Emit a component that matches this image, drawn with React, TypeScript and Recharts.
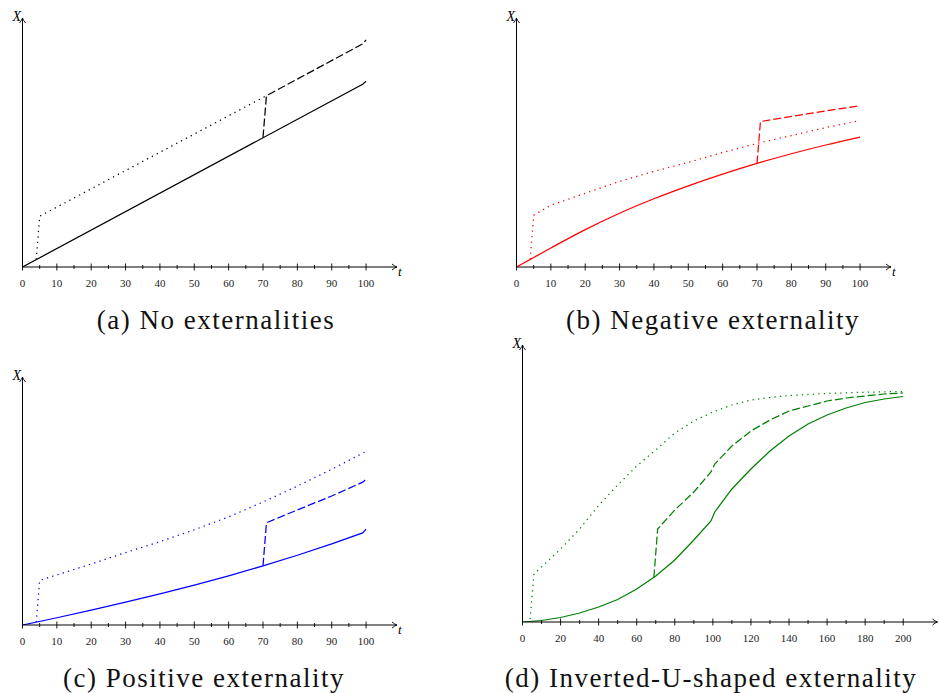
import { LineChart, Line, XAxis, YAxis, ReferenceDot, ReferenceLine } from "recharts";

// (a) No externalities
const aSolidT = [0, 99, 100];
const aSolidX = [0, 183.5, 186.5];
const aDotT = [4, 5, 71];
const aDotX = [7.5, 51, 172];
const aDashT = [70, 71, 99, 100];
const aDashX = [130, 172, 224, 228];

// (b) Negative externality
const bSolidT = [0, 10, 20, 30, 40, 50, 60, 70, 80, 90, 100];
const bSolidX = [0, 19, 37.5, 54, 68.5, 81.5, 93.3, 104, 113.7, 122.5, 130.5];
const bDotT = [4, 5, 10, 20, 30, 40, 50, 60, 70, 80, 90, 100];
const bDotX = [7.8, 52, 62, 74, 86, 96, 105, 115, 124, 132, 140, 147];
const bDashT = [70, 71, 85, 100];
const bDashX = [104, 146, 154, 162];

// (c) Positive externality
const cSolidT = [0, 10, 20, 30, 40, 50, 60, 70, 80, 90, 99, 100];
const cSolidX = [0, 7.3, 15, 23, 31.4, 40.2, 49.6, 59.6, 70.3, 81.7, 92.8, 96.7];
const cDotT = [4, 5, 10, 20, 30, 40, 50, 60, 70, 80, 90, 100];
const cDotX = [2.9, 45, 50.5, 61.5, 73, 84, 96, 109, 124, 140, 157, 175];
const cDashT = [70, 71, 80, 90, 99, 100];
const cDashX = [59.6, 103, 116, 130, 144, 147];

// (d) Inverted-U-shaped externality
const dSolidT = [0, 10, 20, 30, 40, 50, 60, 70, 80, 90, 99, 101, 110, 120, 130, 140, 150, 160, 170, 180, 190, 200];
const dSolidX = [0, 1.5, 4.5, 9, 15, 22.5, 33, 46, 62, 82, 101, 110, 133, 153, 171, 186, 198, 207, 214, 219.5, 223, 225.5];
const dDotT = [4, 6, 10, 20, 30, 40, 50, 60, 70, 80, 90, 100, 110, 120, 130, 140, 160, 180, 200];
const dDotX = [3, 48, 55, 73, 93, 116.5, 137, 156, 172, 189, 201, 210, 217, 222, 224.5, 226.5, 228.5, 229.8, 230.5];
const dDashT = [69, 71, 80, 90, 99, 101, 110, 120, 130, 140, 150, 160, 170, 180, 190, 200];
const dDashX = [44.5, 93, 112, 130, 150, 158, 176, 191, 202, 211, 216, 221, 224, 226, 228, 229];

const ticks100 = [0, 5, 10, 15, 20, 25, 30, 35, 40, 45, 50, 55, 60, 65, 70, 75, 80, 85, 90, 95, 100];
const ticks200 = [0, 10, 20, 30, 40, 50, 60, 70, 80, 90, 100, 110, 120, 130, 140, 150, 160, 170, 180, 190, 200];

const captions = [
  "(a) No externalities",
  "(b) Negative externality",
  "(c) Positive externality",
  "(d) Inverted-U-shaped externality",
];

const zip = (ts: number[], xs: number[]) => ts.map((t, i) => ({ t, x: xs[i] }));

const DOTTED = "1.3 4.2";
const DASHED = "8 3";

const serif = '"Liberation Serif", "DejaVu Serif", serif';

const makeTick = (majorStep: number) => (props: any) => {
  const { x, y, payload } = props;
  const v = payload.value;
  const major = v % majorStep === 0;
  const h = major ? 3.5 : 2;
  return (
    <g>
      <line x1={x} x2={x} y1={y - h} y2={y + h} stroke="#000" strokeWidth={0.9} />
      {major && (
        <text x={x} y={y + 20} textAnchor="middle" style={{ fontFamily: serif, fontSize: 11 }} fill="#222">
          {v}
        </text>
      )}
    </g>
  );
};

const makeRightArrow = (showLabel: boolean) => (props: any) => {
  const { cx, cy } = props;
  return (
    <g>
      <path
        d={`M${cx - 5},${cy - 3} Q${cx - 2},${cy - 0.5} ${cx},${cy} Q${cx - 2},${cy + 0.5} ${cx - 5},${cy + 3}`}
        fill="none"
        stroke="#000"
        strokeWidth={0.9}
      />
      {showLabel && (
        <text x={cx + 1} y={cy + 9} style={{ fontFamily: serif, fontSize: 13, fontStyle: "italic" }} fill="#000">
          t
        </text>
      )}
    </g>
  );
};

const upArrow = (props: any) => {
  const { cx, cy } = props;
  return (
    <g>
      <path
        d={`M${cx - 3},${cy + 5} Q${cx - 0.5},${cy + 2} ${cx},${cy} Q${cx + 0.5},${cy + 2} ${cx + 3},${cy + 5}`}
        fill="none"
        stroke="#000"
        strokeWidth={0.9}
      />
      <text x={cx - 1.5} y={cy + 2.5} textAnchor="end" style={{ fontFamily: serif, fontSize: 14, fontStyle: "italic" }} fill="#000">
        X
      </text>
    </g>
  );
};

interface Series {
  data: { t: number; x: number }[];
  dash?: string;
  smooth?: boolean;
}

function Panel({
  left, top, width, height, right, xMax, yMax, ticks, majorStep, color, series, tLabel,
}: {
  left: number; top: number; width: number; height: number; right: number;
  xMax: number; yMax: number; ticks: number[]; majorStep: number; color: string; series: Series[];
  tLabel: boolean;
}) {
  return (
    <div style={{ position: "absolute", left, top }}>
      <LineChart width={width} height={height} margin={{ top: 18, right, left: 22.5, bottom: 0 }}>
        <XAxis
          dataKey="t"
          type="number"
          domain={[0, xMax]}
          ticks={ticks}
          interval={0}
          height={33}
          axisLine={{ stroke: "#000", strokeWidth: 1 }}
          tickLine={false}
          tickSize={0}
          tickMargin={0}
          tick={makeTick(majorStep)}
          allowDataOverflow
        />
        <YAxis type="number" domain={[0, yMax]} width={0} tick={false} tickLine={false} axisLine={false} allowDataOverflow />
        <ReferenceLine x={0} stroke="#000" strokeWidth={1} ifOverflow="visible" />
        {series.map((s, i) => (
          <Line
            key={i}
            data={s.data}
            dataKey="x"
            type={s.smooth ? "monotone" : "linear"}
            stroke={color}
            strokeWidth={1.25}
            strokeDasharray={s.dash}
            dot={false}
            activeDot={false}
            isAnimationActive={false}
          />
        ))}
        <ReferenceDot x={xMax} y={0} r={0} shape={makeRightArrow(tLabel)} ifOverflow="visible" />
        <ReferenceDot x={0} y={yMax} r={0} shape={upArrow} ifOverflow="visible" />
      </LineChart>
    </div>
  );
}

export default function App() {
  const captionPos = [
    { x: 216, y: 329 },
    { x: 713, y: 329 },
    { x: 204, y: 687 },
    { x: 711, y: 687 },
  ];
  return (
    <div style={{ position: "absolute", left: 0, top: 0, width: 939, height: 693, overflow: "hidden", background: "#fff" }}>
      <Panel
        left={0} top={0} width={470} height={300} right={73}
        xMax={109} yMax={250} ticks={ticks100} majorStep={10} color="#000" tLabel
        series={[
          { data: zip(aSolidT, aSolidX) },
          { data: zip(aDotT, aDotX), dash: DOTTED },
          { data: zip(aDashT, aDashX), dash: DASHED },
        ]}
      />
      <Panel
        left={494} top={0} width={445} height={300} right={48}
        xMax={109} yMax={250} ticks={ticks100} majorStep={10} color="#ff0000" tLabel
        series={[
          { data: zip(bSolidT, bSolidX), smooth: true },
          { data: zip(bDotT, bDotX), dash: DOTTED },
          { data: zip(bDashT, bDashX), dash: DASHED },
        ]}
      />
      <Panel
        left={0} top={359} width={470} height={299} right={73}
        xMax={109} yMax={250} ticks={ticks100} majorStep={10} color="#0000ff" tLabel
        series={[
          { data: zip(cSolidT, cSolidX) },
          { data: zip(cDotT, cDotX), dash: DOTTED },
          { data: zip(cDashT, cDashX), dash: DASHED },
        ]}
      />
      <Panel
        left={500} top={327} width={439} height={328} right={1.5}
        xMax={218} yMax={277} ticks={ticks200} majorStep={20} color="#008000" tLabel={false}
        series={[
          { data: zip(dSolidT, dSolidX) },
          { data: zip(dDotT, dDotX), dash: DOTTED },
          { data: zip(dDashT, dDashX), dash: DASHED },
        ]}
      />
      <svg width={939} height={693} style={{ position: "absolute", left: 0, top: 0, pointerEvents: "none" }}>
        {captions.map((c, i) => (
          <text
            key={c}
            x={captionPos[i].x}
            y={captionPos[i].y}
            textAnchor="middle"
            style={{ fontFamily: serif, fontSize: 27, letterSpacing: 1.5 }}
            fill="#111"
          >
            {c}
          </text>
        ))}
      </svg>
    </div>
  );
}
